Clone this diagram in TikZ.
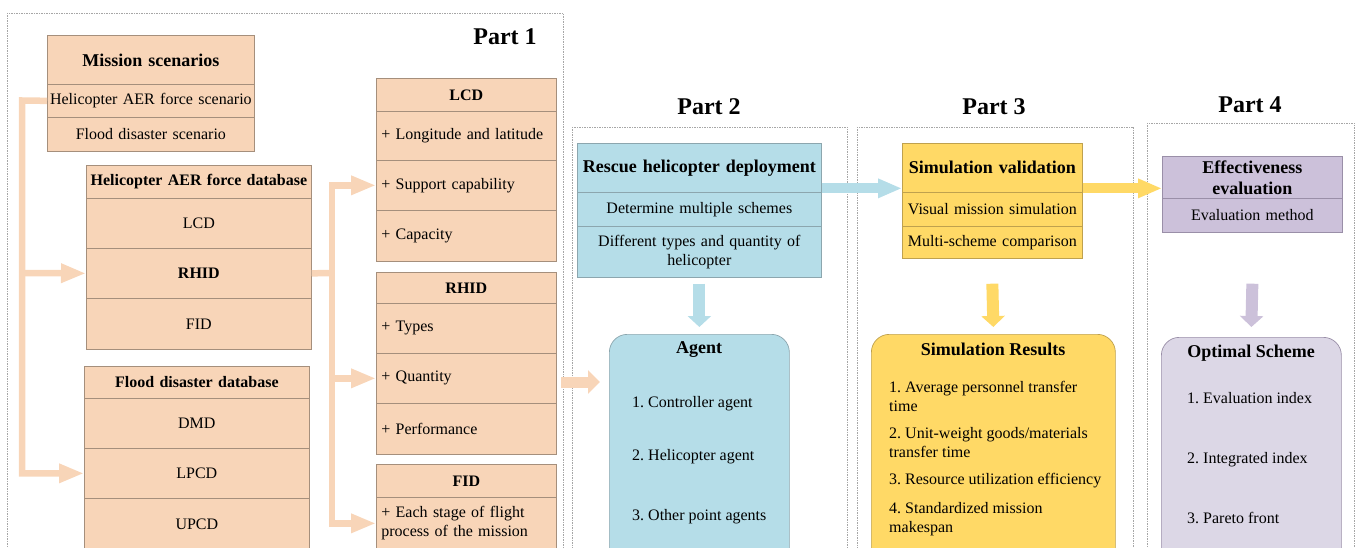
\documentclass[tikz,border=0pt]{standalone}
\usepackage{fontspec}
\setmainfont{Liberation Serif}
\usetikzlibrary{arrows.meta}
\frenchspacing
\definecolor{pfill}{HTML}{F8D5B8}
\definecolor{pdraw}{HTML}{A58F7C}
\definecolor{bfill}{HTML}{B5DDE8}
\definecolor{bdraw}{HTML}{8CA6AE}
\definecolor{gfill}{HTML}{FFD966}
\definecolor{gdraw}{HTML}{BFA14E}
\definecolor{vfill}{HTML}{CCC1DA}
\definecolor{vdraw}{HTML}{9A8FA8}
\definecolor{lfill}{HTML}{DCD7E6}
\definecolor{frm}{HTML}{A6A6A6}
\newcommand\rf{\fontsize{16}{19}\selectfont}
\newcommand\mf{\fontsize{16}{19}\selectfont\bfseries}
\newcommand\hf{\fontsize{18}{21}\selectfont\bfseries}
\newcommand\ptf{\fontsize{24}{28}\selectfont\bfseries}
\begin{document}
\begin{tikzpicture}[x=1pt,y=-1pt,
  base/.style={rectangle, anchor=north west, inner sep=0pt, line width=0.7pt, font=\rf},
  wh/.style 2 args={minimum width=#1pt, minimum height=#2pt, text width=#1pt, align=center},
  whl/.style 2 args={minimum width=#1pt, minimum height=#2pt, text width=170pt, inner xsep=5pt, align=left},
  pc/.style={base, draw=pdraw, fill=pfill},
  bc/.style={base, draw=bdraw, fill=bfill},
  gc/.style={base, draw=gdraw, fill=gfill},
  vc/.style={base, draw=vdraw, fill=vfill},
  rbox/.style={rectangle, rounded corners=18pt, anchor=north west, line width=0.7pt, inner sep=0pt},
  txt/.style={inner sep=0pt, font=\rf},
  ttl/.style={inner sep=0pt, font=\hf},
  parttitle/.style={inner sep=0pt, font=\ptf},
  frame/.style={draw=frm, line width=0.6pt, dash pattern=on 1.5pt off 1pt},
  pstem/.style={draw=pfill, line width=6.5pt, line join=miter},
  parrow/.style={pstem, -{Triangle[length=25pt,width=18pt]}},
  harrow/.style={line width=10pt, -{Triangle[length=24pt,width=18pt]}},
  varrow/.style={line width=12pt, -{Triangle[length=11pt,width=23pt]}}
]
\useasboundingbox (0,0) rectangle (1356,548);

% frames
\draw[frame] (7,13) rectangle (563,560);
\draw[frame] (572,127) rectangle (847,560);
\draw[frame] (857,127) rectangle (1133,560);
\draw[frame] (1147,123) rectangle (1354,560);

\node[parttitle] (t1) at (505,37) {Part 1};
\node[parttitle] (t2) at (709,107) {Part 2};
\node[parttitle] (t3) at (994,107) {Part 3};
\node[parttitle] (t4) at (1250,105) {Part 4};

% Mission scenarios
\node[pc,wh={207}{49},font=\hf] (ms1) at (47,35) {Mission scenarios\\[4pt]};
\node[pc,wh={207}{33}] (ms2) at (47,84) {Helicopter AER force scenario};
\node[pc,wh={207}{34}] (ms3) at (47,117) {Flood disaster scenario};

% Helicopter AER force database
\node[pc,wh={225}{33},font=\mf] (hd1) at (86,165) {Helicopter AER force database};
\node[pc,wh={225}{50}] (hd2) at (86,198) {LCD};
\node[pc,wh={225}{50},font=\mf] (hd3) at (86,248) {RHID};
\node[pc,wh={225}{51}] (hd4) at (86,298) {FID};

% Flood disaster database
\node[pc,wh={225}{32},font=\mf] (fd1) at (84,366) {Flood disaster database};
\node[pc,wh={225}{50}] (fd2) at (84,398) {DMD};
\node[pc,wh={225}{50}] (fd3) at (84,448) {LPCD};
\node[pc,wh={225}{51}] (fd4) at (84,498) {UPCD};

% LCD
\node[pc,wh={180}{33},font=\mf] (lc1) at (376,78) {LCD};
\node[pc,whl={180}{49}] (lc2) at (376,111) {+ Longitude and latitude};
\node[pc,whl={180}{50}] (lc3) at (376,160) {+ Support capability};
\node[pc,whl={180}{51}] (lc4) at (376,210) {+ Capacity};

% RHID
\node[pc,wh={180}{31},font=\mf] (rh1) at (376,272) {RHID};
\node[pc,whl={180}{50}] (rh2) at (376,303) {+ Types};
\node[pc,whl={180}{50}] (rh3) at (376,353) {+ Quantity};
\node[pc,whl={180}{51}] (rh4) at (376,403) {+ Performance};

% FID
\node[pc,wh={180}{33},font=\mf] (fi1) at (376,464) {FID};
\node[pc,whl={180}{52}] (fi2) at (376,497) {+ Each stage of flight\\process of the mission};

% Part 1 arrows
\coordinate (L1) at (22,100.5);
\coordinate (L2) at (22,273);
\draw[parrow] (ms2.west) -- (L1) |- (fd3.west);
\draw[parrow] (L2) -- (hd3.west);
\coordinate (R0) at (332,273);
\draw[pstem] (hd3.east) -- (R0);
\draw[parrow] (R0) |- (lc3.west);
\draw[parrow] (R0) |- (rh3.west);
\draw[parrow] (R0) |- (fi2.west);

% Part 2
\node[bc,wh={244}{49},font=\hf] (rs1) at (577,143) {Rescue helicopter deployment\\[3pt]};
\node[bc,wh={244}{34}] (rs2) at (577,192) {Determine multiple schemes};
\node[bc,wh={244}{51}] (rs3) at (577,226) {Different types and quantity of\\helicopter};
\node[rbox,draw=bdraw,fill=bfill,minimum width=180pt,minimum height=240pt] (agent) at (609,334) {};
\node[ttl] (ag0) at (699,350) {Agent};
\node[txt,anchor=west] (ag1) at (632,404) {1. Controller agent};
\node[txt,anchor=west] (ag2) at (632,457) {2. Helicopter agent};
\node[txt,anchor=west] (ag3) at (632,517) {3. Other point agents};

% Part 3
\node[gc,wh={180}{49},font=\hf] (sv1) at (902,143) {Simulation validation\\[3pt]};
\node[gc,wh={180}{34}] (sv2) at (902,192) {Visual mission simulation};
\node[gc,wh={180}{32}] (sv3) at (902,226) {Multi-scheme comparison};
\node[rbox,draw=gdraw,fill=gfill,minimum width=244pt,minimum height=240pt] (res) at (871,334) {};
\node[ttl] (rs0) at (993,349) {Simulation Results};
\node[txt,anchor=west,align=left] (re1) at (889,396.5) {1. Average personnel transfer\\time};
\node[txt,anchor=west,align=left] (re2) at (889,442.5) {2. Unit-weight goods/materials\\transfer time};
\node[txt,anchor=west,align=left] (re3) at (889,481) {3. Resource utilization efficiency};
\node[txt,anchor=west,align=left] (re4) at (889,519) {4. Standardized mission\\makespan};

% Part 4
\node[vc,wh={180}{42},font=\hf] (ev1) at (1162,156) {Effectiveness\\evaluation};
\node[vc,wh={180}{34}] (ev2) at (1162,198) {Evaluation method};
\node[rbox,draw=vdraw,fill=lfill,minimum width=180pt,minimum height=240pt] (opt) at (1161,337) {};
\node[ttl] (op0) at (1251,353) {Optimal Scheme};
\node[txt,anchor=west] (op1) at (1187,398) {1. Evaluation index};
\node[txt,anchor=west] (op2) at (1187,460) {2. Integrated index};
\node[txt,anchor=west] (op3) at (1187,518) {3. Pareto front};

% connectors between parts
\coordinate (A0) at (561,382);
\draw[draw=pfill, line width=11pt, -{Triangle[length=12pt,width=23pt]}, shorten >=9pt] (A0) -- (A0 -| agent.west);
\draw[harrow, draw=bfill] ([yshift=-20.5pt]rs1.east) -- ([yshift=-20.5pt]rs1.east -| sv1.west);
\draw[harrow, draw=gfill] ([yshift=-20.5pt]sv1.east) -- ([yshift=-20.5pt]sv1.east -| ev1.west);
\draw[varrow, draw=bfill] ([yshift=-6pt]rs3.south) -- ([yshift=7pt]agent.north);
\draw[varrow, draw=gfill] ([yshift=-25pt]sv3.south) -- ([yshift=7pt]res.north);
\draw[varrow, draw=vfill] ([yshift=-51pt]ev2.south) -- ([yshift=10pt]opt.north);
\end{tikzpicture}
\end{document}
